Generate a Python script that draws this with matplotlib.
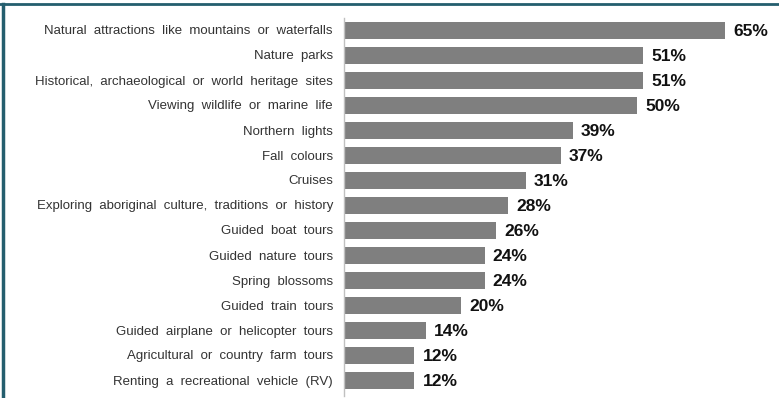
import matplotlib
matplotlib.use("Agg")
import matplotlib.pyplot as plt
from matplotlib.lines import Line2D

plt.rcParams['font.family'] = ['Liberation Sans', 'DejaVu Sans']

# data (top to bottom)
categories = [
    "Natural  attractions  like  mountains  or  waterfalls",
    "Nature  parks",
    "Historical,  archaeological  or  world  heritage  sites",
    "Viewing  wildlife  or  marine  life",
    "Northern  lights",
    "Fall  colours",
    "Cruises",
    "Exploring  aboriginal  culture,  traditions  or  history",
    "Guided  boat  tours",
    "Guided  nature  tours",
    "Spring  blossoms",
    "Guided  train  tours",
    "Guided  airplane  or  helicopter  tours",
    "Agricultural  or  country  farm  tours",
    "Renting  a  recreational  vehicle  (RV)",
]
values = [65, 51, 51, 50, 39, 37, 31, 28, 26, 24, 24, 20, 14, 12, 12]

W, H = 779, 398
fig = plt.figure(figsize=(W / 100, H / 100), dpi=100)
fig.patch.set_facecolor("white")

ax = fig.add_axes([344 / W, 2 / H, 422 / W, 378 / H])
pos = list(range(len(values)))
ax.barh(pos, values, height=0.68, color="#7f7f7f")
ax.set_ylim(14.64, -0.48)
ax.set_xlim(0, 72)

# value labels
for y, v in zip(pos, values):
    ax.text(v + 1.4, y + 0.05, f"{v}%", va="center", ha="left",
            fontsize=12.5, fontweight="bold", color="#111111")

ax.set_yticks(pos)
ax.set_yticklabels(categories, fontsize=9.5, color="#333333")
ax.tick_params(axis="y", length=0, pad=8)
ax.set_xticks([])
for s in ["top", "right", "bottom"]:
    ax.spines[s].set_visible(False)
ax.spines["left"].set_color("#c0c0c0")
ax.spines["left"].set_linewidth(1)

# frame lines
border = "#245e6e"
fig.add_artist(Line2D([0, 1], [1 - 4 / H, 1 - 4 / H], transform=fig.transFigure,
                      color=border, linewidth=2))
fig.add_artist(Line2D([2.5 / W, 2.5 / W], [0, 1 - 4 / H], transform=fig.transFigure,
                      color=border, linewidth=2.5))

fig.savefig("out.png", dpi=100)
